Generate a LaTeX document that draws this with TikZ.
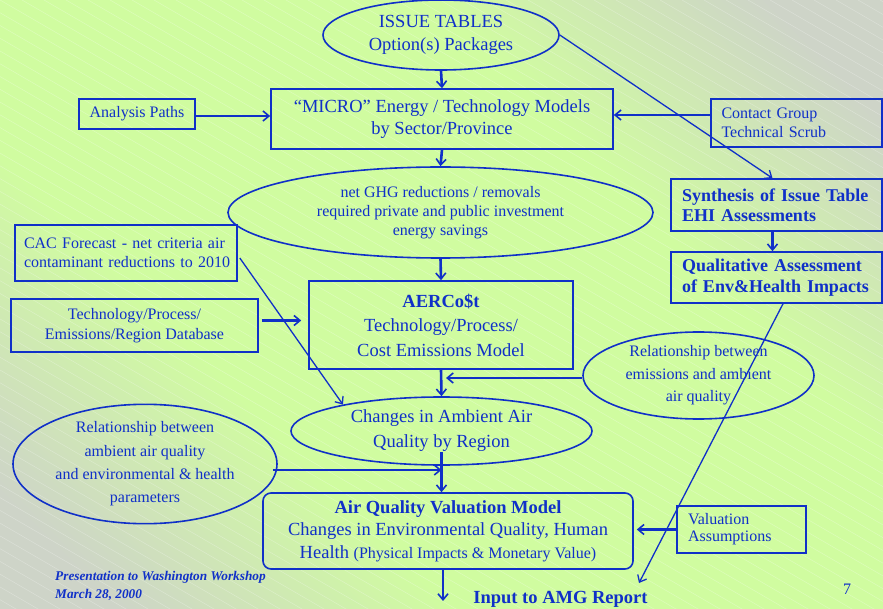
\documentclass[tikz,border=0pt]{standalone}
\usepackage{fontspec}
\setmainfont{Liberation Serif}
\usetikzlibrary{arrows.meta,shapes.geometric}
\definecolor{dblue}{RGB}{16,48,200}
\definecolor{bggreen}{RGB}{208,252,160}
\definecolor{cornergrey}{RGB}{206,212,200}
\pgfdeclarehorizontalshading{bgshade}{100bp}{color(0bp)=(cornergrey); color(20bp)=(cornergrey); color(36bp)=(bggreen); color(64bp)=(bggreen); color(80bp)=(cornergrey); color(100bp)=(cornergrey)}
\tikzset{
  box/.style={draw=dblue, line width=1.6pt, text=dblue, rectangle, inner sep=0pt, align=center},
  lbox/.style={draw=dblue, line width=1.6pt, text=dblue, rectangle, inner ysep=0pt, align=left},
  oval/.style={draw=dblue, line width=1.6pt, text=dblue, ellipse, inner sep=0pt, align=center},
  thickarrow/.style={draw=dblue, line width=2.6pt, -{Straight Barb[length=6pt,width=10pt,line width=1.6pt]}},
  thinarrow/.style={draw=dblue, line width=1.3pt, -{Straight Barb[length=6pt,width=10pt,line width=1.3pt]}},
  big/.style={font=\fontsize{18.5}{22.5}\selectfont},
  mid/.style={font=\fontsize{16}{19}\selectfont},
}
\begin{document}
\begin{tikzpicture}[x=1pt,y=-1pt]
\useasboundingbox (0,0) rectangle (883,609);
% background
\shade[shading=bgshade, shading angle=45] (0,0) rectangle (883,609);
\begin{scope}
\clip (0,0) rectangle (883,609);
\foreach \i in {-50,...,42}
  \draw[white, opacity=0.28, line width=0.5pt] (\i*22,0) -- ++(1100,638);
\end{scope}

% nodes
\node[oval, big, minimum width=236pt, minimum height=70pt] (issue) at (441,35)
  {ISSUE TABLES\\Option(s) Packages};
\node[box, big, minimum width=342pt, minimum height=60pt] (micro) at (442,119)
  {“MICRO” Energy / Technology Models\\by Sector/Province};
\node[box, mid, minimum width=116pt, minimum height=30pt] (analysis) at (137,114)
  {Analysis Paths};
\node[lbox, mid, inner xsep=10.5pt, text width=150pt, minimum height=48pt] (contact) at (796.5,123)
  {Contact Group\\Technical Scrub};
\node[lbox, inner xsep=11pt, text width=189pt, minimum height=52pt, font=\fontsize{18}{20}\selectfont\bfseries] (synth) at (776.5,205)
  {Synthesis of Issue Table\\EHI Assessments};
\node[lbox, inner xsep=11pt, text width=189pt, minimum height=51pt, font=\fontsize{18}{21}\selectfont\bfseries] (qual) at (776.5,277.5)
  {Qualitative Assessment\\of Env\&Health Impacts};
\node[oval, mid, minimum width=425pt, minimum height=91pt] (ghg) at (440.5,212.5)
  {net GHG reductions / removals\\required private and public investment\\energy savings};
\node[lbox, mid, inner xsep=9pt, text width=204pt, minimum height=56pt] (cac) at (126,253)
  {\mbox{CAC Forecast - net criteria air}\\\mbox{contaminant reductions to 2010}};
\node[box, mid, minimum width=247pt, minimum height=53pt, font=\fontsize{16}{20}\selectfont] (techdb) at (134.5,325.5)
  {Technology/Process/\\Emissions/Region Database};
\node[box, minimum width=264pt, minimum height=88pt, font=\fontsize{18.5}{24.5}\selectfont] (aercost) at (441,325)
  {\textbf{AERCo\$t}\\Technology/Process/\\Cost Emissions Model};
\node[oval, minimum width=231pt, minimum height=87pt, font=\fontsize{16}{22.5}\selectfont] (relR) at (698.5,375.5)
  {Relationship between\\emissions and ambient\\air quality};
\node[oval, minimum width=301pt, minimum height=68pt, font=\fontsize{18.5}{25}\selectfont] (changes) at (441.5,431)
  {Changes in Ambient Air\\Quality by Region};
\node[oval, minimum width=264pt, minimum height=110pt, font=\fontsize{16}{23.3}\selectfont] (relL) at (145,464)
  {Relationship between\\ambient air quality\\and environmental \& health\\parameters};
\node[box, rounded corners=8pt, minimum width=370pt, minimum height=76pt, font=\fontsize{18.5}{22.5}\selectfont] (aqv) at (448,531)
  {\textbf{Air Quality Valuation Model}\\Changes in Environmental Quality, Human\\Health {\fontsize{16}{19}\selectfont(Physical Impacts \& Monetary Value)}};
\node[lbox, mid, inner xsep=11pt, text width=107pt, minimum height=47pt, font=\fontsize{16}{17}\selectfont] (valu) at (741.5,529.5)
  {Valuation\\Assumptions};
\node[text=dblue, inner sep=0pt, font=\fontsize{18.5}{22}\selectfont\bfseries] (amg) at (560.5,599)
  {Input to AMG Report};
\node[text=dblue, inner sep=0pt, font=\fontsize{16}{19}\selectfont] (pagenum) at (847,589) {7};
\node[text=dblue, inner sep=0pt, anchor=west, align=left, font=\fontsize{13.3}{18}\selectfont\bfseries\itshape] (footer) at (55,586)
  {Presentation to Washington Workshop\\March 28, 2000};

% coordinates
\coordinate (c1) at ([yshift=8pt]contact.west);
\coordinate (a1) at ([yshift=-2pt]analysis.east);
\coordinate (t1) at ([xshift=3pt,yshift=5pt]techdb.east);
\coordinate (cc1) at ([xshift=2pt,yshift=-5pt]cac.east);
\coordinate (r1) at ([yshift=-2.5pt]relR.west);
\coordinate (c2) at ([yshift=-21pt]changes.center);
\coordinate (l1) at ([xshift=-5pt,yshift=-6pt]relL.east);
\coordinate (q1) at ([xshift=6.5pt]qual.south);
\coordinate (amgtip) at (639,583);
\coordinate (aqvout) at (443,601);

% connectors
\draw[thickarrow] (issue.south) -- (micro.north);
\draw[thickarrow] (micro.south) -- (ghg.north);
\draw[thickarrow] (a1) -- (a1 -| micro.west);
\draw[thickarrow] (c1) -- (c1 -| micro.east);
\draw[thinarrow] (issue.east) -- ([xshift=-4pt]synth.north);
\draw[thickarrow] ([xshift=-4pt]synth.south) -- ([xshift=-4pt]qual.north);
\draw[thinarrow] (q1) -- (amgtip);
\draw[thickarrow] (ghg.south) -- (aercost.north);
\draw[thickarrow, shorten >=7pt] (t1) -- (t1 -| aercost.west);
\draw[thinarrow] (cc1) -- (changes.165);
\draw[thickarrow, shorten >=5pt] (r1) -- (r1 -| aercost.south);
\draw[thickarrow] (aercost.south) -- (changes.north);
\draw[thickarrow] (c2) -- (c2 |- aqv.north);
\draw[thickarrow] (l1) -- (l1 -| c2);
\draw[thickarrow, shorten >=3pt] (valu.west) -- (valu.west -| aqv.east);
\draw[thickarrow] (aqvout |- aqv.south) -- (aqvout);
\end{tikzpicture}
\end{document}
